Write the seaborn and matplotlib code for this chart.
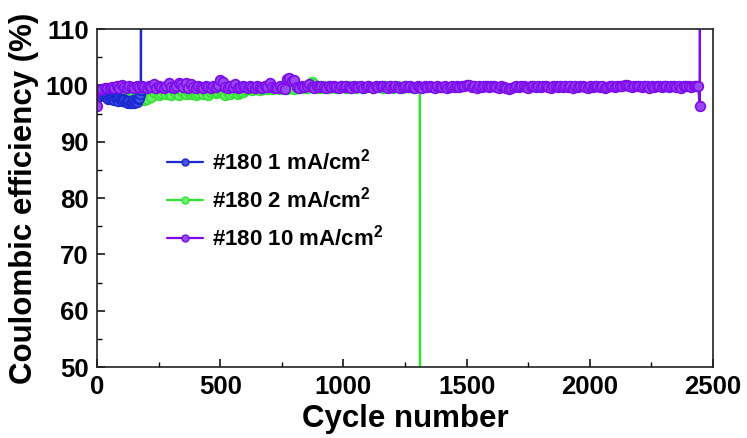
import numpy as np
import pandas as pd
import matplotlib
matplotlib.use("Agg")
import matplotlib.pyplot as plt
from matplotlib.lines import Line2D
import seaborn as sns

# Coulombic efficiency (%) sampled every few cycles; last entries are the failure spikes
blue_cycles = list(range(1, 177, 5)) + [178, 179]
blue_ce = [97.8, 98.2, 98.5, 98.3, 98.6, 98.2, 98.4, 97.9, 98.1, 97.6,
           97.8, 97.5, 98.0, 97.7, 97.4, 97.8, 97.6, 97.3, 97.7, 97.5,
           97.2, 97.6, 97.4, 97.0, 97.3, 96.9, 97.2, 96.8, 97.1, 97.4,
           96.9, 97.2, 97.0, 97.5, 97.8, 98.4,
           99.2, 140.0]

green_cycles = list(range(1, 1302, 10)) + [1310, 1311]
green_ce = [98.0, 98.6, 99.0, 99.2, 98.8, 99.3, 99.1, 99.4, 99.2, 99.0,
            99.3, 99.1, 99.4, 99.2, 99.0, 99.3, 99.1, 99.4, 99.2, 97.4,
            97.6, 98.4, 97.9, 98.8, 99.1, 98.2, 98.6, 99.0, 98.4, 98.7,
            98.2, 99.0, 98.6, 98.3, 99.2, 98.9, 98.5, 99.0, 98.4, 98.8,
            98.2, 98.7, 99.0, 98.5, 98.8, 98.3, 98.9, 99.1, 98.6, 98.8,
            99.2, 98.7, 98.3, 98.8, 98.5, 98.9, 99.1, 98.4, 98.8, 98.9,
            99.2, 99.4, 99.3, 99.1, 99.5, 99.3, 99.2, 99.4, 99.6, 99.3,
            99.5, 99.4, 99.6, 99.5, 99.3, 99.6, 99.5, 99.4, 99.6, 99.5,
            99.4, 99.6, 99.5, 99.7, 99.6, 99.5, 99.7, 100.6, 100.2, 99.6,
            99.7, 99.6, 99.8, 99.7, 99.6, 99.8, 99.7, 99.6, 99.7, 99.8,
            99.7, 99.6, 99.8, 99.7, 99.7, 99.6, 99.8, 99.7, 99.6, 99.7,
            99.8, 99.7, 99.6, 99.7, 99.8, 99.7, 99.6, 99.8, 99.7, 99.7,
            99.6, 99.7, 99.8, 99.7, 99.6, 99.8, 99.7, 99.7, 99.6, 99.7,
            99.7,
            99.7, 40.0]

purple_cycles = list(range(1, 2442, 10)) + [2446, 2447]
purple_ce = [96.3, 99.2, 99.4, 99.5, 99.6, 99.5, 99.7, 99.6, 99.8, 99.6,
             100.1, 99.7, 99.6, 99.8, 99.7, 99.6, 99.9, 99.7, 99.8, 99.7,
             99.6, 99.8, 99.7, 100.3, 99.6, 99.8, 99.7, 99.6, 99.9, 100.5,
             99.7, 99.6, 99.9, 100.4, 100.3, 99.7, 100.4, 99.6, 100.2, 99.7,
             99.6, 99.8, 99.7, 99.6, 99.9, 99.7, 99.6, 99.8, 99.7, 100.0,
             101.0, 100.6, 99.7, 99.6, 99.8, 99.7, 100.2, 99.6, 99.7, 99.8,
             99.7, 99.6, 99.8, 99.7, 99.6, 99.9, 99.7, 99.6, 99.8, 99.7,
             100.4, 99.7, 99.6, 99.5, 99.8, 99.6, 99.4, 101.1, 101.3, 100.8,
             101.0, 99.7, 99.6, 99.8, 99.7, 99.9, 100.2, 99.7, 99.6, 99.8,
             99.7, 99.8, 99.7, 99.6, 99.8, 99.7, 99.9, 99.7, 99.6, 99.8,
             99.7, 99.8, 99.7, 99.6, 99.8, 99.7, 99.7, 99.8, 99.6, 99.7,
             99.8, 99.7, 99.6, 99.8, 99.7, 99.8, 99.9, 99.7, 99.6, 99.8,
             99.7, 99.8, 99.7, 99.6, 99.7, 99.8, 99.7, 99.9, 99.7, 99.6,
             99.8, 99.7, 99.6, 99.8, 99.7, 99.8, 99.7, 99.6, 99.8, 99.7,
             99.7, 99.8, 99.6, 99.7, 99.8, 99.7, 99.9, 99.7, 99.8, 99.9,
             100.1, 100.0, 99.7, 99.8, 99.6, 99.9, 99.7, 99.8, 99.9, 99.7,
             99.8, 99.9, 99.7, 99.6, 99.8, 99.7, 99.5, 99.4, 99.6, 99.7,
             99.8, 99.7, 99.9, 99.8, 99.7, 99.6, 99.8, 99.9, 99.7, 99.8,
             99.7, 99.9, 99.8, 99.7, 99.6, 99.8, 99.9, 99.7, 99.8, 99.7,
             99.8, 99.7, 99.9, 99.6, 99.8, 99.7, 99.8, 99.9, 99.7, 99.6,
             99.8, 99.7, 99.9, 99.8, 99.7, 99.8, 99.6, 99.7, 99.9, 99.8,
             99.7, 99.8, 99.9, 99.8, 100.0, 100.1, 99.9, 99.7, 99.8, 99.9,
             99.8, 99.7, 99.9, 99.8, 99.6, 99.8, 99.7, 99.9, 99.8, 99.7,
             99.9, 99.8, 99.7, 99.8, 99.9, 99.7, 99.8, 99.6, 99.8, 99.9,
             99.8, 99.7, 99.9, 99.8, 99.8,
             96.3, 140.0]

labels = [r"#180 1 mA/cm$^\mathbf{2}$", r"#180 2 mA/cm$^\mathbf{2}$",
          r"#180 10 mA/cm$^\mathbf{2}$"]
colors = ["#1a28d0", "#30e330", "#7c0cec"]
faces = ["#4a55e6", "#6cf06c", "#9a48f4"]

series = [(blue_cycles, blue_ce), (green_cycles, green_ce), (purple_cycles, purple_ce)]
frames = []
for lab, (cyc, ce) in zip(labels, series):
    frames.append(pd.DataFrame({"cycle": cyc, "ce": ce, "cell": lab}))
df = pd.concat(frames, ignore_index=True)

sns.set_style("ticks")
plt.rcParams["font.family"] = ["Liberation Sans", "DejaVu Sans"]
plt.rcParams["font.weight"] = "bold"
plt.rcParams["mathtext.fontset"] = "custom"
plt.rcParams["mathtext.rm"] = "Liberation Sans:bold"
plt.rcParams["mathtext.bf"] = "Liberation Sans:bold"
for key in ["text.color", "axes.labelcolor", "xtick.color", "ytick.color"]:
    plt.rcParams[key] = "black"

fig = plt.figure(figsize=(7.47, 4.38), dpi=100)
ax = fig.add_axes([97 / 747, (438 - 367) / 438, 616 / 747, 338 / 438])

# green below, blue above it, purple on top
for idx in [1, 0, 2]:
    sub = df[df["cell"] == labels[idx]]
    sns.lineplot(data=sub, x="cycle", y="ce", ax=ax, sort=False, estimator=None,
                 color=colors[idx], linewidth=1.8, marker="o", markersize=7,
                 markerfacecolor=faces[idx], markeredgecolor=colors[idx],
                 markeredgewidth=1.2, legend=False)

ax.set_xlim(0, 2500)
ax.set_ylim(50, 110)
ax.set_xticks([0, 500, 1000, 1500, 2000, 2500])
ax.set_xticks([250, 750, 1250, 1750, 2250], minor=True)
ax.set_yticks([50, 60, 70, 80, 90, 100, 110])
ax.set_yticks([55, 65, 75, 85, 95, 105], minor=True)
ax.tick_params(axis="both", which="major", direction="in", length=6, width=1.1,
               labelsize=18.5, pad=6, top=False, right=False, colors="black")
ax.tick_params(axis="both", which="minor", direction="in", length=3.5, width=1.0,
               top=False, right=False, colors="black")
for lab in ax.get_xticklabels() + ax.get_yticklabels():
    lab.set_fontweight("bold")
for sp in ax.spines.values():
    sp.set_linewidth(1.2)
    sp.set_color("#222222")

ax.set_xlabel("Cycle number", fontsize=22.5, fontweight="bold", color="black")
ax.set_ylabel("Coulombic efficiency (%)", fontsize=22.5, fontweight="bold", color="black")
ax.xaxis.set_label_coords(0.5, -0.11)
ax.yaxis.set_label_coords(-0.094, 0.5)

handles = [Line2D([0], [0], color=c, lw=1.6, marker="o", markersize=5,
                  markerfacecolor=f, markeredgecolor=c, markeredgewidth=1.0)
           for c, f in zip(colors, faces)]
ax.legend(handles, labels, loc="center left", bbox_to_anchor=(0.114, 0.495),
          frameon=False, borderpad=0, borderaxespad=0, handlelength=1.6,
          handletextpad=0.4, labelspacing=0.55,
          prop={"size": 16, "weight": "bold"})

fig.savefig("out.png", dpi=100)
